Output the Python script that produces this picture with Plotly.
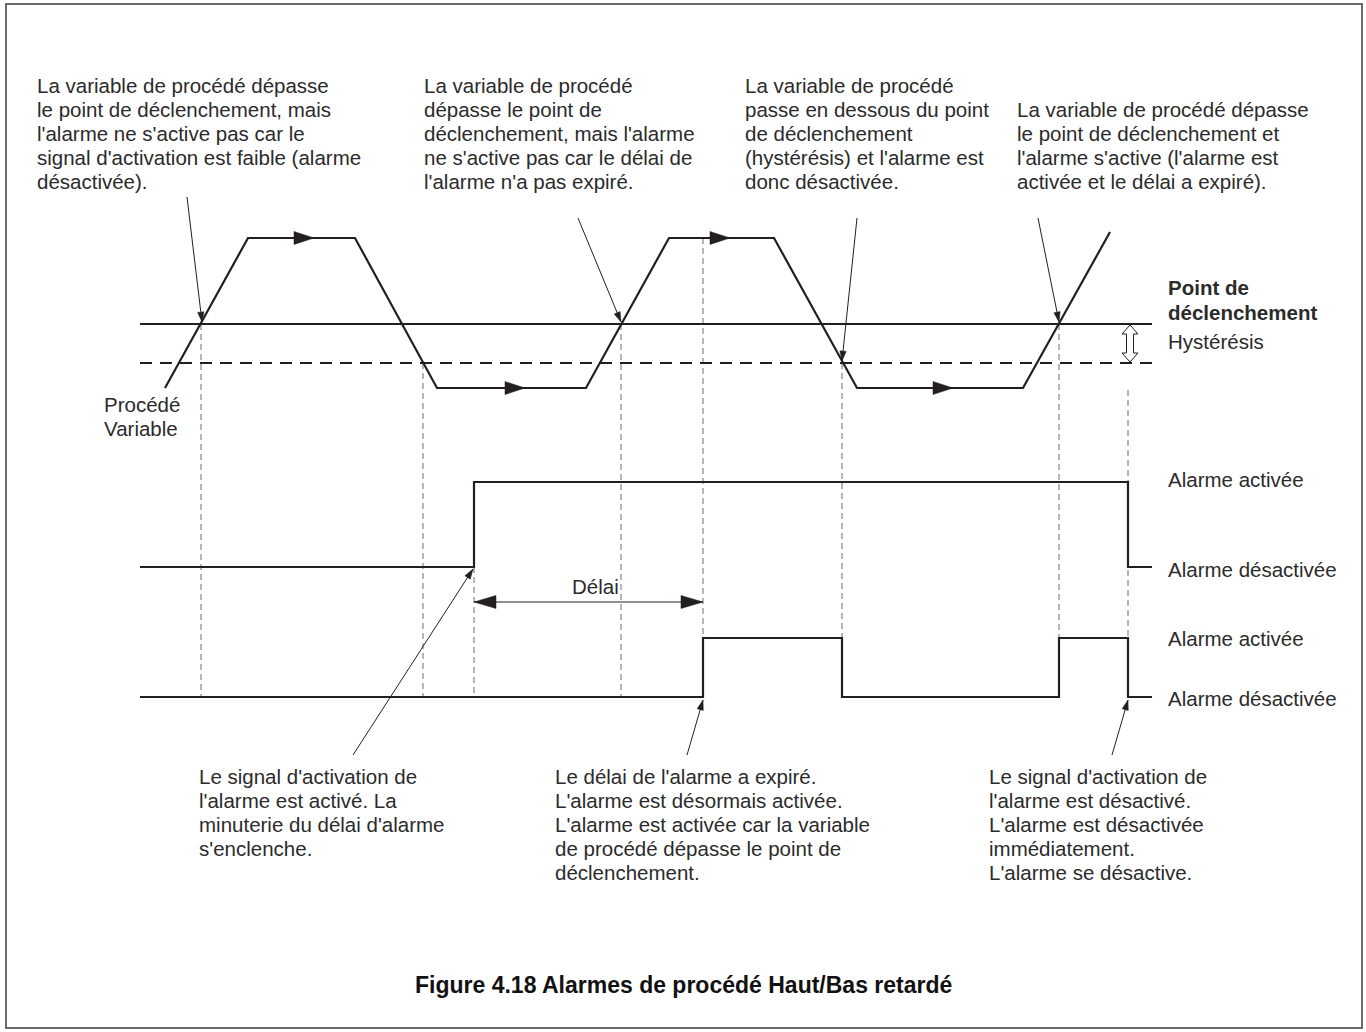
import numpy as np
import plotly.graph_objects as go

# Drawing coordinates are in page pixels (y grows downwards).

# process variable trace
pv_x = [165, 248, 355, 437, 586, 669, 774, 857, 1023, 1110]
pv_y = [388, 238, 238, 388, 388, 238, 238, 388, 388, 232]

# direction arrows on the flat parts
flow_tip_x = [314, 525, 730, 953]
flow_y = [238, 388, 238, 388]

setpoint_y = 324
hyst_y = 363
level_x = [140, 1152]

# alarm enable signal and alarm output
enable_x = [140, 474, 474, 1128, 1128, 1152]
enable_y = [567, 567, 482, 482, 567, 567]
alarm_x = [140, 703, 703, 842, 842, 1059, 1059, 1128, 1128, 1152]
alarm_y = [697, 697, 638, 638, 697, 697, 638, 638, 697, 697]

# vertical dashed guides
guide_x = [201, 423, 474, 621, 703, 842, 1059, 1128]
guide_top = [324, 363, 567, 324, 238, 363, 324, 390]
guide_bottom = [697, 697, 697, 697, 638, 638, 638, 697]

# callout pointers (tail -> tip)
ptr_x0 = [187, 578, 857, 1038, 353, 687, 1112]
ptr_y0 = [197, 218, 218, 218, 755, 755, 755]
ptr_x1 = [202, 621, 842, 1059, 473, 703, 1128]
ptr_y1 = [322, 322, 361, 322, 569, 700, 700]

delay_x = [474, 703]
delay_y = 602
hyst_arrow_x = 1130

top_notes = [
    (35, 85, ["La variable de procédé dépasse",
              "le point de déclenchement, mais",
              "l'alarme ne s'active pas car le",
              "signal d'activation est faible (alarme",
              "désactivée)."]),
    (422, 85, ["La variable de procédé",
               "dépasse le point de",
               "déclenchement, mais l'alarme",
               "ne s'active pas car le délai de",
               "l'alarme n'a pas expiré."]),
    (743, 85, ["La variable de procédé",
               "passe en dessous du point",
               "de déclenchement",
               "(hystérésis) et l'alarme est",
               "donc désactivée."]),
    (1015, 109, ["La variable de procédé dépasse",
                 "le point de déclenchement et",
                 "l'alarme s'active (l'alarme est",
                 "activée et le délai a expiré)."]),
]
bottom_notes = [
    (197, 776, ["Le signal d'activation de",
                "l'alarme est activé. La",
                "minuterie du délai d'alarme",
                "s'enclenche."]),
    (553, 776, ["Le délai de l'alarme a expiré.",
                "L'alarme est désormais activée.",
                "L'alarme est activée car la variable",
                "de procédé dépasse le point de",
                "déclenchement."]),
    (987, 776, ["Le signal d'activation de",
                "l'alarme est désactivé.",
                "L'alarme est désactivée",
                "immédiatement.",
                "L'alarme se désactive."]),
]
side_labels = [
    (1166, 287, "<b>Point de</b>"),
    (1166, 312, "<b>déclenchement</b>"),
    (1166, 341, "Hystérésis"),
    (1166, 479, "Alarme activée"),
    (1166, 569, "Alarme désactivée"),
    (1166, 638, "Alarme activée"),
    (1166, 698, "Alarme désactivée"),
    (102, 404, "Procédé"),
    (102, 428, "Variable"),
    (595, 586, "Délai"),
]
title = "Figure 4.18 Alarmes de procédé Haut/Bas retardé"

INK = "#231f20"
GREY = "#6d6e71"
FONT = "Liberation Sans"
LINE_H = 24


def tete(x0, y0, x1, y1, longueur, demi):
    # triangle with its tip on (x1, y1), pointing away from (x0, y0)
    u = np.array([x1 - x0, y1 - y0], dtype=float)
    u /= np.hypot(*u)
    n = np.array([-u[1], u[0]])
    tip = np.array([x1, y1], dtype=float)
    base = tip - longueur * u
    pts = [tip, base + demi * n, base - demi * n, tip]
    return [p[0] for p in pts] + [None], [p[1] for p in pts] + [None]


fig = go.Figure()

# guides first so solid lines sit on top
gx, gy = [], []
for x, t, b in zip(guide_x, guide_top, guide_bottom):
    gx += [x, x, None]
    gy += [t, b, None]
fig.add_trace(go.Scatter(x=gx, y=gy, mode="lines",
                         line=dict(color=GREY, width=1, dash="6px,4px")))

fig.add_trace(go.Scatter(x=level_x, y=[setpoint_y] * 2, mode="lines",
                         line=dict(color=INK, width=2)))
fig.add_trace(go.Scatter(x=level_x, y=[hyst_y] * 2, mode="lines",
                         line=dict(color=INK, width=2, dash="12px,8px")))

for xs, ys in [(pv_x, pv_y), (enable_x, enable_y), (alarm_x, alarm_y)]:
    fig.add_trace(go.Scatter(x=xs, y=ys, mode="lines",
                             line=dict(color=INK, width=2.2)))

# pointer lines
px_, py_ = [], []
for a, b, c, d in zip(ptr_x0, ptr_y0, ptr_x1, ptr_y1):
    px_ += [a, c, None]
    py_ += [b, d, None]
px_ += [delay_x[0], delay_x[1], None]
py_ += [delay_y, delay_y, None]
fig.add_trace(go.Scatter(x=px_, y=py_, mode="lines",
                         line=dict(color=INK, width=1)))

# filled arrow heads
hx, hy = [], []
for x, y in zip(flow_tip_x, flow_y):
    a, b = tete(x - 10, y, x, y, 20, 6.5)
    hx += a
    hy += b
for a0, b0, a1, b1 in zip(ptr_x0, ptr_y0, ptr_x1, ptr_y1):
    a, b = tete(a0, b0, a1, b1, 10, 3.2)
    hx += a
    hy += b
a, b = tete(delay_x[1], delay_y, delay_x[0], delay_y, 22, 6.5)
hx += a
hy += b
a, b = tete(delay_x[0], delay_y, delay_x[1], delay_y, 22, 6.5)
hx += a
hy += b
fig.add_trace(go.Scatter(x=hx, y=hy, mode="lines", fill="toself",
                         fillcolor=INK, line=dict(color=INK, width=0.5)))

# hollow double arrow for the hysteresis band
t, b, c = setpoint_y + 1, hyst_y - 1, hyst_arrow_x
hw, sw, hl = 8, 3.5, 9
fig.add_trace(go.Scatter(
    x=[c, c + hw, c + sw, c + sw, c + hw, c, c - hw, c - sw, c - sw, c - hw, c],
    y=[t, t + hl, t + hl, b - hl, b - hl, b, b - hl, b - hl, t + hl, t + hl, t],
    mode="lines", fill="toself", fillcolor="white",
    line=dict(color=INK, width=1)))

annotations = []
for x0, y0, lignes in top_notes + bottom_notes:
    for i, txt in enumerate(lignes):
        annotations.append(dict(x=x0, y=y0 + i * LINE_H, text=txt))
for x0, y0, txt in side_labels:
    annotations.append(dict(x=x0, y=y0, text=txt))
for a in annotations:
    a.update(xref="x", yref="y", showarrow=False, xanchor="left",
             yanchor="middle", font=dict(family=FONT, size=20.5, color="#2b2b2b"))
annotations[-1].update(xanchor="center")
annotations.append(dict(x=683, y=985, xref="x", yref="y", showarrow=False,
                        text="<b>" + title + "</b>", xanchor="center",
                        yanchor="middle",
                        font=dict(family=FONT, size=23, color="#111111")))

fig.update_layout(
    width=1366,
    height=1032,
    margin=dict(l=0, r=0, t=0, b=0),
    paper_bgcolor="white",
    plot_bgcolor="white",
    showlegend=False,
    annotations=annotations,
    shapes=[dict(type="rect", xref="x", yref="y", x0=6, y0=4, x1=1362, y1=1028,
                 line=dict(color="#3a3a3a", width=1.5))],
    xaxis=dict(range=[0, 1366], visible=False, fixedrange=True),
    yaxis=dict(range=[1032, 0], visible=False, fixedrange=True),
    hovermode=False,
)

fig.write_html("out.html", config={"displayModeBar": False},
               post_script="document.body.style.margin='0';")
